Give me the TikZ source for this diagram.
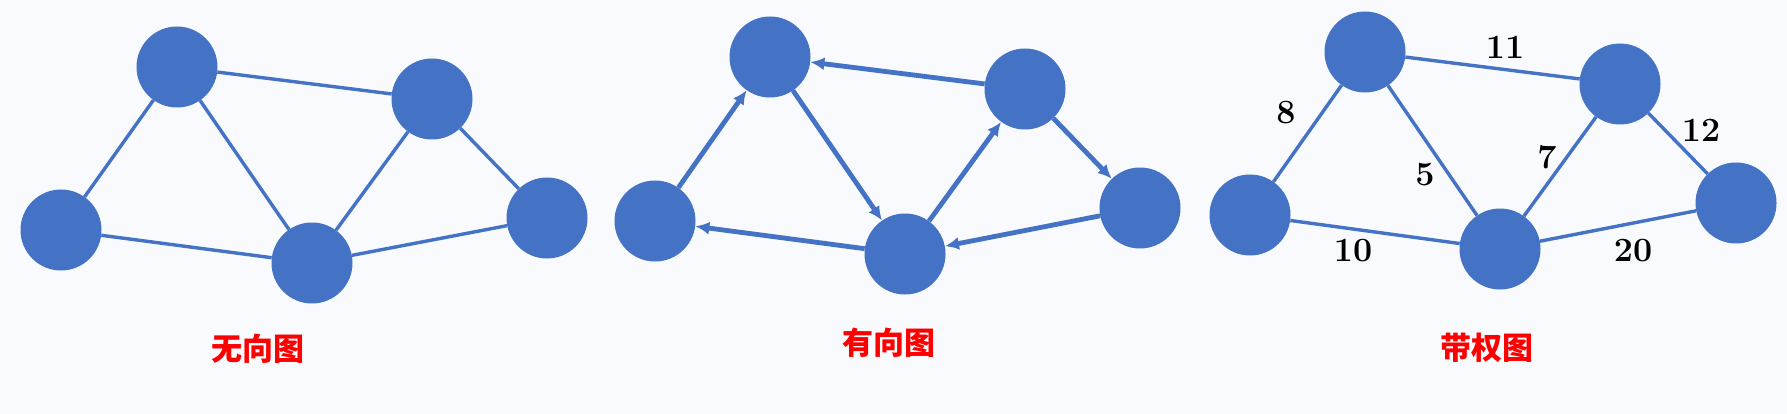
\documentclass[tikz,border=0pt]{standalone}
\usepackage{fontspec}
\newfontfamily\cjk{Noto Sans CJK SC}
\usetikzlibrary{shapes.geometric,arrows.meta}
\definecolor{vertexblue}{HTML}{4472C4}
\definecolor{pagebg}{HTML}{F8FAFE}
\definecolor{titlered}{HTML}{FF0000}

\begin{document}
\begin{tikzpicture}[x=1pt,y=-1pt,
    vertex/.style={circle,fill=vertexblue,minimum size=81pt,inner sep=0pt},
    edge/.style={draw=vertexblue,line width=3.4pt},
    arc/.style={draw=vertexblue,line width=4.8pt,-{Latex[length=14pt,width=13pt]}},
    weight/.style={font=\fontsize{34}{34}\selectfont\bfseries},
    caption/.style={text=titlered,font=\cjk\fontsize{31}{31}\selectfont\bfseries}]
  \fill[pagebg] (0,0) rectangle (1787,414);

  % undirected graph
  \node[vertex] (ua) at (61,230) {};
  \node[vertex] (ub) at (177,67) {};
  \node[vertex] (uc) at (312,263) {};
  \node[vertex] (ud) at (432,99) {};
  \node[vertex] (ue) at (547,218) {};
  \draw[edge] (ua) -- (ub);
  \draw[edge] (ua) -- (uc);
  \draw[edge] (ub) -- (uc);
  \draw[edge] (ub) -- (ud);
  \draw[edge] (uc) -- (ud);
  \draw[edge] (ud) -- (ue);
  \draw[edge] (uc) -- (ue);
  \node[caption] (ucap) at (258,349) {无向图};

  % directed graph
  \node[vertex] (da) at (655,221) {};
  \node[vertex] (db) at (770,57) {};
  \node[vertex] (dc) at (905,254) {};
  \node[vertex] (dd) at (1025,89) {};
  \node[vertex] (de) at (1140,208) {};
  \draw[arc] (da) -- (db);
  \draw[arc] (db) -- (dc);
  \draw[arc] (dc) -- (da);
  \draw[arc] (dd) -- (db);
  \draw[arc] (dc) -- (dd);
  \draw[arc] (dd) -- (de);
  \draw[arc] (de) -- (dc);
  \node[caption] (dcap) at (889,343) {有向图};

  % weighted graph
  \node[vertex] (wa) at (1250,215) {};
  \node[vertex] (wb) at (1365,52) {};
  \node[vertex] (wc) at (1500,249) {};
  \node[vertex] (wd) at (1620,84) {};
  \node[vertex] (we) at (1736,203) {};
  \draw[edge] (wa) -- (wb);
  \draw[edge] (wa) -- (wc);
  \draw[edge] (wb) -- (wc);
  \draw[edge] (wb) -- (wd);
  \draw[edge] (wc) -- (wd);
  \draw[edge] (wd) -- (we);
  \draw[edge] (wc) -- (we);
  \node[weight] (lab8) at (1286,113) {8};
  \node[weight] (lab11) at (1505,47) {11};
  \node[weight] (lab5) at (1425,175) {5};
  \node[weight] (lab7) at (1547,157) {7};
  \node[weight] (lab12) at (1701,130) {12};
  \node[weight] (lab10) at (1353,251) {10};
  \node[weight] (lab20) at (1633,251) {20};
  \node[caption] (wcap) at (1487,348) {带权图};
\end{tikzpicture}
\end{document}
